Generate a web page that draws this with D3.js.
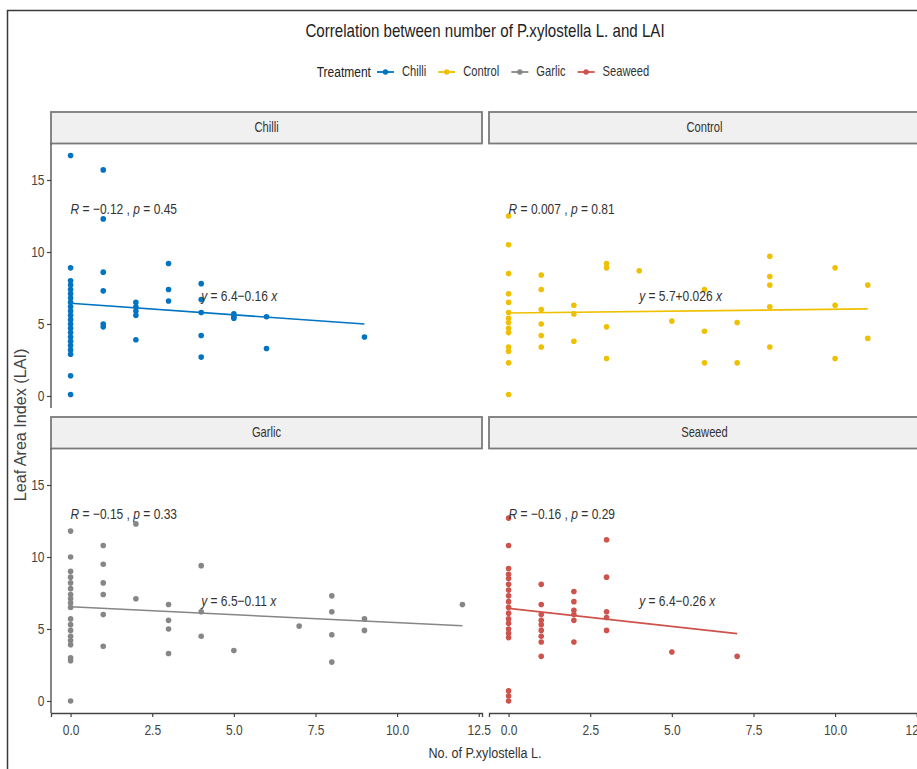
<!DOCTYPE html>
<html>
<head>
<meta charset="utf-8">
<script src="https://cdn.jsdelivr.net/npm/d3@7"></script>
<style>
  body { margin: 0; background: #fff; }
  text { font-family: "Liberation Sans", Arial, sans-serif; }
</style>
</head>
<body>
<script>
// treatment groups, in facet order
const treatments = ["Chilli", "Control", "Garlic", "Seaweed"];
const colors = ["#0073C2", "#EFC000", "#868686", "#CD534C"];

// [No. of P.xylostella, LAI values at that count]
const chilli = [
  [0, [16.7, 8.9, 8.0, 7.7, 7.4, 7.1, 6.8, 6.5, 6.2, 5.9, 5.6, 5.3, 5.0, 4.7, 4.4, 4.1, 3.8, 3.5, 3.2, 2.9, 1.4, 0.1]],
  [1, [15.7, 12.3, 8.6, 7.3, 5.0, 4.8]],
  [2, [6.5, 6.2, 5.9, 5.6, 3.9]],
  [3, [9.2, 7.4, 6.6]],
  [4, [7.8, 6.7, 5.8, 4.2, 2.7]],
  [5, [5.7, 5.5, 5.4]],
  [6, [5.5, 3.3]],
  [9, [4.1]]
];
const control = [
  [0, [12.5, 10.5, 8.5, 7.1, 6.5, 5.8, 5.4, 5.1, 4.7, 4.4, 3.4, 3.1, 2.3, 0.1]],
  [1, [8.4, 7.4, 6.0, 5.0, 4.2, 3.4]],
  [2, [6.3, 5.7, 3.8]],
  [3, [9.2, 8.9, 4.8, 2.6]],
  [4, [8.7]],
  [5, [5.2]],
  [6, [7.4, 4.5, 2.3]],
  [7, [5.1, 2.3]],
  [8, [9.7, 8.3, 7.7, 6.2, 3.4]],
  [10, [8.9, 6.3, 2.6]],
  [11, [7.7, 4.0]]
];
const garlic = [
  [0, [11.8, 10.0, 9.0, 8.6, 8.2, 7.8, 7.4, 7.1, 6.8, 6.5, 5.7, 5.3, 4.9, 4.5, 4.2, 3.9, 3.0, 2.8, 0.0]],
  [1, [10.8, 9.5, 8.2, 7.4, 6.0, 3.8]],
  [2, [12.3, 7.1]],
  [3, [6.7, 5.6, 5.0, 3.3]],
  [4, [9.4, 6.2, 4.5]],
  [5, [3.5]],
  [7, [5.2]],
  [8, [7.3, 6.2, 4.6, 2.7]],
  [9, [5.7, 4.9]],
  [12, [6.7]]
];
const seaweed = [
  [0, [12.7, 10.8, 9.2, 8.8, 8.5, 8.1, 7.7, 7.3, 6.9, 6.5, 6.1, 5.7, 5.4, 5.0, 4.7, 4.4, 0.7, 0.35, 0.0]],
  [1, [8.1, 6.7, 6.0, 5.6, 5.3, 4.9, 4.5, 4.1, 3.1]],
  [2, [7.6, 6.9, 6.3, 6.0, 5.6, 4.1]],
  [3, [11.2, 8.6, 6.2, 5.8, 4.9]],
  [5, [3.4]],
  [7, [3.1]]
];

// regression fits and correlation stats as printed on the chart
const fitA = [6.44, 5.76, 6.54, 6.43];
const fitB = [-0.16, 0.026, -0.11, -0.25];
const corR = ["\u22120.12", "0.007", "\u22120.15", "\u22120.16"];
const corP = ["0.45", "0.81", "0.33", "0.29"];
const eqText = ["6.4\u22120.16", "5.7+0.026", "6.5\u22120.11", "6.4\u22120.26"];

const xTicks = [0, 2.5, 5, 7.5, 10, 12.5];
const yTicks = [0, 5, 10, 15];

const W = 917, H = 769;

const groups = [chilli, control, garlic, seaweed].map((g, i) =>
  g.flatMap(([n, vals]) => vals.map(v => ({ t: i, x: n, y: v }))));
const all = groups.flat();

// layout
const colX = [51, 489], panelW = 431;
const stripTop = [112, 417], stripH = 31.5, panelH = 264.5;

function expand(ext) {
  const pad = (ext[1] - ext[0]) * 0.05;
  return [ext[0] - pad, ext[1] + pad];
}
const xDom = expand(d3.extent(all, d => d.x));
const yDom = expand(d3.extent(all, d => d.y));

// the source uses a narrow face; squeeze text horizontally round its anchor
function squeeze(sel, k) {
  sel.each(function() {
    const t = d3.select(this);
    const x = +t.attr("x") || 0, y = +t.attr("y") || 0;
    t.attr("x", 0).attr("y", 0).attr("transform", `translate(${x},${y}) scale(${k},1)`);
  });
}

const svg = d3.select("body").append("svg")
  .attr("width", W).attr("height", H);

svg.append("rect").attr("width", W).attr("height", H).attr("fill", "#fff");
// outer frame of the picture
svg.append("rect")
  .attr("x", 7.5).attr("y", 10.5).attr("width", 1000).attr("height", 1000)
  .attr("fill", "none").attr("stroke", "#3a3a3a").attr("stroke-width", 1.5);

svg.append("text")
  .attr("x", 485).attr("y", 31).attr("text-anchor", "middle")
  .attr("dominant-baseline", "central")
  .attr("font-size", 18).attr("fill", "#222")
  .text("Correlation between number of P.xylostella L. and LAI")
  .call(squeeze, 0.84);

// legend
const legK = 0.8;
const leg = svg.append("g");
let lx = 0;
const legTitle = leg.append("text").attr("x", 0).attr("y", 0)
  .attr("dominant-baseline", "central").attr("font-size", 15).attr("fill", "#222")
  .text("Treatment");
lx += legTitle.node().getComputedTextLength() * legK + 6;
legTitle.call(squeeze, legK);
treatments.forEach((t, i) => {
  leg.append("line").attr("x1", lx).attr("x2", lx + 17).attr("y1", 0).attr("y2", 0)
    .attr("stroke", colors[i]).attr("stroke-width", 1.8);
  leg.append("circle").attr("cx", lx + 8.5).attr("cy", 0).attr("r", 2.7).attr("fill", colors[i]);
  lx += 25;
  const tt = leg.append("text").attr("x", lx).attr("y", 0)
    .attr("dominant-baseline", "central").attr("font-size", 14).attr("fill", "#333")
    .text(t);
  lx += tt.node().getComputedTextLength() * legK + 12;
  tt.call(squeeze, legK);
});
lx -= 12;
leg.attr("transform", `translate(${483 - lx / 2},72)`);

treatments.forEach((t, i) => {
  const col = i % 2, row = Math.floor(i / 2);
  const x0 = colX[col];
  const sTop = stripTop[row];
  const pTop = sTop + stripH;
  const x = d3.scaleLinear().domain(xDom).range([x0, x0 + panelW]);
  const y = d3.scaleLinear().domain(yDom).range([pTop + panelH, pTop]);
  const g = svg.append("g");

  // strip
  g.append("rect").attr("x", x0).attr("y", sTop).attr("width", panelW).attr("height", stripH)
    .attr("fill", "#f0f0f0").attr("stroke", "#7a7a7a").attr("stroke-width", 1.8);
  g.append("text").attr("x", x0 + panelW / 2).attr("y", sTop + stripH / 2)
    .attr("text-anchor", "middle").attr("dominant-baseline", "central")
    .attr("font-size", 14).attr("fill", "#333").text(t)
    .call(squeeze, 0.8);

  // axes on outer panels only
  if (col === 0) {
    const ya = g.append("g").attr("transform", `translate(${x0},0)`)
      .call(d3.axisLeft(y).tickValues(yTicks).tickSize(4).tickPadding(2.5).tickFormat(d3.format("d")));
    ya.select(".domain").attr("d", `M0,${pTop}V${pTop + panelH}`);
  }
  if (row === 1) {
    g.append("g").attr("transform", `translate(0,${pTop + panelH})`)
      .call(d3.axisBottom(x).tickValues(xTicks).tickSize(4).tickPadding(7).tickFormat(d3.format(".1f")));
  }
  g.selectAll(".domain").attr("stroke", "#444").attr("stroke-width", 1.3);
  g.selectAll(".tick line").attr("stroke", "#444").attr("stroke-width", 1.2);
  g.selectAll(".tick text").attr("fill", "#444").attr("font-size", 15)
    .attr("font-family", null).call(squeeze, 0.8);

  // regression line
  const ext = d3.extent(groups[i], d => d.x);
  g.append("line")
    .attr("x1", x(ext[0])).attr("y1", y(fitA[i] + fitB[i] * ext[0]))
    .attr("x2", x(ext[1])).attr("y2", y(fitA[i] + fitB[i] * ext[1]))
    .attr("stroke", colors[i]).attr("stroke-width", 1.6);

  // points
  g.selectAll("circle.pt").data(groups[i]).join("circle")
    .attr("class", "pt")
    .attr("cx", d => x(d.x)).attr("cy", d => y(d.y))
    .attr("r", 2.8).attr("fill", colors[i]);

  // stat labels
  const cor = g.append("text").attr("x", x(0)).attr("y", y(13))
    .attr("dominant-baseline", "central").attr("font-size", 15).attr("fill", "#333");
  cor.append("tspan").attr("font-style", "italic").text("R");
  cor.append("tspan").text(` = ${corR[i]} , `);
  cor.append("tspan").attr("font-style", "italic").text("p");
  cor.append("tspan").text(` = ${corP[i]}`);
  cor.call(squeeze, 0.8);

  const eq = g.append("text").attr("x", x(4)).attr("y", y(7))
    .attr("dominant-baseline", "central").attr("font-size", 15).attr("fill", "#333");
  eq.append("tspan").attr("font-style", "italic").text("y");
  eq.append("tspan").text(` = ${eqText[i]} `);
  eq.append("tspan").attr("font-style", "italic").text("x");
  eq.call(squeeze, 0.8);
});

// axis titles
svg.append("text")
  .attr("x", 485).attr("y", 753).attr("text-anchor", "middle")
  .attr("dominant-baseline", "central").attr("font-size", 15).attr("fill", "#333")
  .text("No. of P.xylostella L.")
  .call(squeeze, 0.84);
svg.append("g")
  .attr("transform", "translate(20,425) rotate(-90)")
  .append("text")
  .attr("text-anchor", "middle").attr("dominant-baseline", "central")
  .attr("font-size", 17).attr("fill", "#444")
  .text("Leaf Area Index (LAI)")
  .call(squeeze, 0.95);
</script>
</body>
</html>
